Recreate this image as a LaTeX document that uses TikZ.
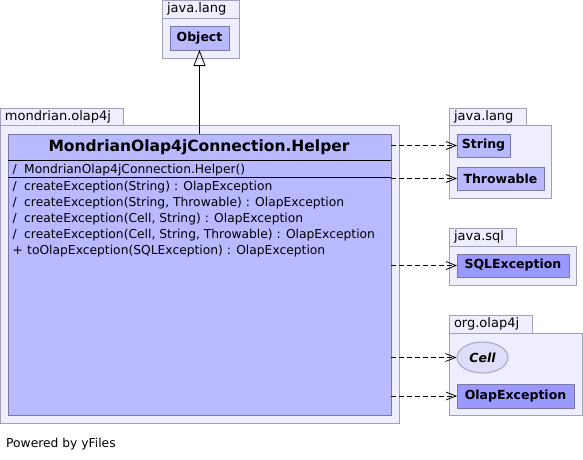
\documentclass[tikz,border=0pt]{standalone}
\usepackage{fontspec}
\setmainfont{DejaVu Sans}
\usetikzlibrary{arrows.meta,shapes.geometric}
\definecolor{pkgfill}{RGB}{238,238,255}
\definecolor{pkgline}{RGB}{160,160,185}
\definecolor{clsfill}{RGB}{185,185,255}
\definecolor{clsline}{RGB}{120,120,170}
\definecolor{darkfill}{RGB}{153,153,255}
\definecolor{ifill}{RGB}{222,222,248}
\definecolor{iline}{RGB}{165,165,200}
\tikzset{
  pkgbody/.style={draw=pkgline, fill=pkgfill, line width=1pt, anchor=north west, inner sep=0pt, outer sep=0pt},
  pkgtab/.style={pkgbody, inner xsep=5pt, align=left, font=\fontsize{13}{15}\selectfont},
  clsbox/.style={draw=clsline, fill=clsfill, line width=1pt, anchor=north west, inner sep=0pt, outer sep=0pt, font=\fontsize{12.5}{14}\selectfont\bfseries},
  darkbox/.style={clsbox, fill=darkfill},
  member/.style={anchor=base west, inner sep=0pt, font=\fontsize{12.3}{14}\selectfont},
  dep/.style={dash pattern=on 5pt off 3pt, line width=0.8pt, -{Straight Barb[length=10pt,width=8pt,line width=0.8pt]}},
}
\newcommand{\vis}[2][11.5pt]{\makebox[#1][l]{#2}}
\begin{document}
\begin{tikzpicture}[x=1pt,y=-1pt]
\useasboundingbox (0,0) rectangle (583,459);
% top java.lang package
\node[pkgtab, minimum width=77pt, text width=67pt, minimum height=18.5pt] (tabL1) at (162,0) {java.lang};
\node[pkgbody, minimum width=77pt, minimum height=39.5pt] (pkgL1) at (162,18.5) {};
\node[clsbox, minimum width=59pt, minimum height=24pt] (obj) at (170,26) {Object};
% mondrian.olap4j package
\node[pkgtab, minimum width=123pt, text width=113pt, minimum height=17pt] (tabM) at (0,108) {mondrian.olap4j};
\node[pkgbody, minimum width=399pt, minimum height=298pt] (pkgM) at (0,125) {};
\node[clsbox, minimum width=383pt, minimum height=281pt] (cls) at (8,134) {};
\node[font=\fontsize{15.5}{18}\selectfont\bfseries, inner sep=0pt] (title) at (199,147) {MondrianOlap4jConnection.Helper};
\draw[line width=1pt] (cls.west |- 0,160) coordinate (s1a) -- (cls.east |- s1a);
\draw[line width=1pt] (cls.west |- 0,177) coordinate (s2a) -- (cls.east |- s2a);
\node[member] (m0) at (12.5,173) {\vis{/}MondrianOlap4jConnection.Helper()};
\node[member] (m1) at (12.5,190.5) {\vis{/}createException(String) : OlapException};
\node[member] (m2) at (12.5,206.5) {\vis{/}createException(String, Throwable) : OlapException};
\node[member] (m3) at (12.5,222.5) {\vis{/}createException(Cell, String) : OlapException};
\node[member] (m4) at (12.5,238.5) {\vis{/}createException(Cell, String, Throwable) : OlapException};
\node[member] (m5) at (12.5,254.5) {\vis[14.5pt]{+}toOlapException(SQLException) : OlapException};
% right java.lang package
\node[pkgtab, minimum width=77pt, text width=67pt, minimum height=17pt] (tabL2) at (449,108) {java.lang};
\node[pkgbody, minimum width=102pt, minimum height=73pt] (pkgL2) at (449,125) {};
\node[clsbox, minimum width=53pt, minimum height=23pt] (str) at (457,134) {String};
\node[clsbox, minimum width=87pt, minimum height=23pt] (thr) at (457,167) {Throwable};
% java.sql package
\node[pkgtab, minimum width=67pt, text width=57pt, minimum height=18pt] (tabS) at (449,228) {java.sql};
\node[pkgbody, minimum width=127pt, minimum height=39pt] (pkgS) at (449,246) {};
\node[darkbox, minimum width=112pt, minimum height=23pt] (sql) at (457,254) {SQLException};
% org.olap4j package
\node[pkgtab, minimum width=83pt, text width=73pt, minimum height=18pt] (tabO) at (449,315) {org.olap4j};
\node[pkgbody, minimum width=133pt, minimum height=82pt] (pkgO) at (449,333) {};
\node[ellipse, draw=iline, fill=ifill, line width=1pt, minimum width=51pt, minimum height=31pt, inner sep=0pt, font=\fontsize{12.5}{14}\selectfont\bfseries\itshape] (cell) at (482.5,357.5) {Cell};
\node[darkbox, minimum width=117pt, minimum height=24pt] (olx) at (457,384) {OlapException};
% connectors
\draw[line width=0.8pt, -{Triangle[open,length=16pt,width=12pt,line width=0.8pt]}] (cls.north -| obj.south) -- (obj.south);
\draw[dep] (cls.east |- str.west) -- (str.west);
\draw[dep] (cls.east |- thr.west) -- (thr.west);
\draw[dep] (cls.east |- sql.west) -- (sql.west);
\draw[dep] (cls.east |- cell.west) -- (cell.west);
\draw[dep] (cls.east |- olx.west) -- (olx.west);
% footer
\node[anchor=base west, inner sep=0pt, font=\fontsize{12.3}{14}\selectfont] (footer) at (6,447) {Powered by yFiles};
\end{tikzpicture}
\end{document}
